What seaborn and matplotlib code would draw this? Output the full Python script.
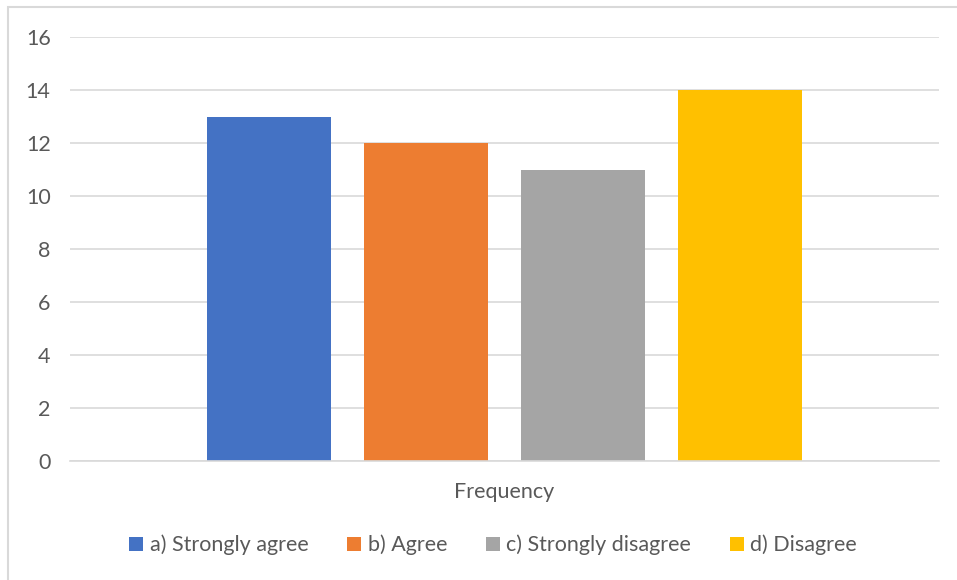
import pandas as pd
import matplotlib.pyplot as plt
import seaborn as sns
from matplotlib.patches import Rectangle

# Chart data
category = ['Frequency']
series = ['a) Strongly agree', 'b) Agree', 'c) Strongly disagree', 'd) Disagree']
values = [13, 12, 11, 14]
colors = ['#4472C4', '#ED7D31', '#A5A5A5', '#FFC000']
yticks = [0, 2, 4, 6, 8, 10, 12, 14, 16]

data = pd.DataFrame({'category': category * len(series), 'answer': series, 'count': values})

sns.set_theme(style='white')
plt.rcParams['font.family'] = ['Lato', 'DejaVu Sans']
text_color = '#595959'
grid_color = '#D9D9D9'
fs = 15.5

fig = plt.figure(figsize=(9.57, 5.8), dpi=100)
ax = fig.add_axes([70 / 957, 1 - 461 / 580, 869 / 957, 424 / 580])

sns.barplot(data=data, x='category', y='count', hue='answer', palette=colors,
            width=0.7227, gap=0.21, saturation=1, linewidth=0, ax=ax, legend=True)

ax.set_xlim(-0.5, 0.5)
ax.set_ylim(0, 16)
ax.set_yticks(yticks)
ax.set_yticklabels([str(t) for t in yticks])
ax.yaxis.grid(True, color=grid_color, linewidth=1.2)
ax.set_axisbelow(True)
for side in ['top', 'right', 'left']:
    ax.spines[side].set_visible(False)
ax.spines['bottom'].set_color(grid_color)
ax.spines['bottom'].set_linewidth(1.2)
ax.tick_params(axis='both', length=0, labelsize=fs, colors=text_color)
ax.tick_params(axis='x', pad=15)
ax.tick_params(axis='y', pad=14)
ax.set_xlabel('')
ax.set_ylabel('')

ax.legend(loc='center', bbox_to_anchor=(0.487, -0.198), ncol=4, frameon=False,
          fontsize=fs, labelcolor=text_color, handlelength=0.65, handleheight=0.65,
          handletextpad=0.3, columnspacing=1.8)

# chart area border
fig.patches.append(Rectangle((8 / 957, -0.01), 1.0, 1 - 7 / 580 + 0.01,
                             transform=fig.transFigure, fill=False,
                             edgecolor=grid_color, linewidth=1.5))

fig.savefig('out.png', dpi=100)
